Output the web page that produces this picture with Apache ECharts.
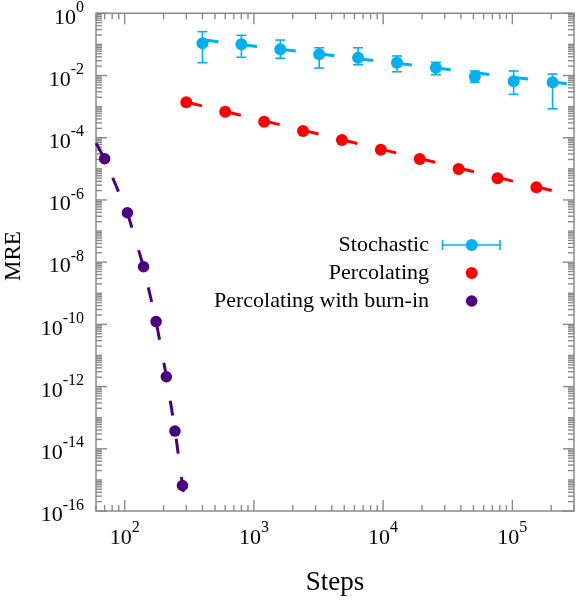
<!DOCTYPE html>
<html>
<head>
<meta charset="utf-8">
<script src="https://cdn.jsdelivr.net/npm/echarts@6/dist/echarts.min.js"></script>
<style>
html,body{margin:0;padding:0;background:#fff;}
#chart{width:576px;height:600px;}
</style>
</head>
<body>
<div id="chart"></div>
<script>
// ---- data ----
var stochSteps = [400, 800, 1600, 3200, 6400, 12800, 25600, 51200, 102400, 204800];
var stochMRE   = [0.108, 0.101, 0.0696, 0.048, 0.0373, 0.0258, 0.0178, 0.00915, 0.00651, 0.00604];
var stochLow   = [0.0258, 0.0385, 0.0357, 0.0174, 0.0222, 0.0132, 0.0106, 0.00604, 0.00248, 0.000855];
var stochHigh  = [0.257, 0.196, 0.138, 0.078, 0.078, 0.0424, 0.0266, 0.014, 0.014, 0.0112];

var percSteps = [300, 600, 1200, 2400, 4800, 9600, 19200, 38400, 76800, 153600];
var percMRE   = [1.38e-3, 6.85e-4, 3.27e-4, 1.64e-4, 8.4e-5, 4.11e-5, 2.07e-5, 9.86e-6, 4.95e-6, 2.54e-6];

var burnSteps = [70, 105, 140, 175, 210, 245, 280];
var burnMRE   = [2.11e-5, 3.89e-7, 7.1e-9, 1.23e-10, 2.07e-12, 3.7e-14, 6.6e-16];

// dashed fit lines
var stochFitSteps = [400, 300000];
var stochFitMRE   = [0.14, 0.0051];
var percFitSteps  = [300, 300000];
var percFitMRE    = [1.4e-3, 1.35e-6];
var burnFitSteps  = [60, 70, 105, 140, 175, 210, 245, 280, 296];
var burnFitMRE    = [6.7e-5, 2.1e-5, 3.9e-7, 7.1e-9, 1.26e-10, 2.2e-12, 4e-14, 7e-16, 1e-16];

// axis tick labels
var xTickValues = [100, 1000, 10000, 100000];
var yTickValues = [1e-16, 1e-14, 1e-12, 1e-10, 1e-8, 1e-6, 1e-4, 1e-2, 1];
var xDecades = [1, 2, 3, 4, 5];
var yDecades = [-16, -15, -14, -13, -12, -11, -10, -9, -8, -7, -6, -5, -4, -3, -2, -1, 0];
var legendNames = ['Stochastic', 'Percolating', 'Percolating with burn-in'];

var xMin = 60, xMax = 300000, yMin = 1e-16, yMax = 1;

var BLUE = '#00B0F0', RED = '#FF0000', PURPLE = '#4B0082', GRAY = '#8a8a8a';
var FONT = '"Liberation Serif", "Times New Roman", serif';

function zip(a, b) { return a.map(function (v, i) { return [v, b[i]]; }); }

function expLabel(v) {
  var l = Math.log(v) / Math.LN10;
  var e = Math.round(l);
  if (Math.abs(l - e) > 1e-6) return '';
  return '{b|10}{s|' + e + '}';
}

var richLab = {
  b: { fontSize: 22, fontFamily: FONT, color: '#000', lineHeight: 22 },
  s: { fontSize: 16, fontFamily: FONT, color: '#000', lineHeight: 16, padding: [0, 0, 20, 0] }
};

var chart = echarts.init(document.getElementById('chart'), null, { renderer: 'canvas' });

var option = {
  animation: false,
  backgroundColor: '#fff',
  grid: {
    left: 96, top: 13.3, right: 2, bottom: 89,
    containLabel: false, outerBoundsMode: 'none',
    show: true, borderColor: GRAY, borderWidth: 1.5, backgroundColor: 'transparent'
  },
  xAxis: {
    type: 'log', logBase: 10, min: xMin, max: xMax,
    name: 'Steps', nameLocation: 'middle', nameGap: 58,
    nameTextStyle: { fontFamily: FONT, fontSize: 27, color: '#000' },
    axisLine: { show: false }, axisTick: { show: false }, splitLine: { show: false },
    axisLabel: { customValues: xTickValues, formatter: expLabel, rich: richLab, margin: 16, hideOverlap: false }
  },
  yAxis: {
    type: 'log', logBase: 10, min: yMin, max: yMax,
    axisLine: { show: false }, axisTick: { show: false }, splitLine: { show: false },
    axisLabel: { customValues: yTickValues, formatter: expLabel, rich: richLab, margin: 12, hideOverlap: false, padding: [9, 0, 0, 0] }
  },
  graphic: [
    {
      type: 'text', x: 14, y: 256, rotation: Math.PI / 2, z: 10,
      style: { text: 'MRE', fontFamily: FONT, fontSize: 23, fill: '#000',
        align: 'center', textAlign: 'center', verticalAlign: 'middle', textVerticalAlign: 'middle' }
    }
  ],
  series: [
    {
      type: 'custom', name: 'ticks', silent: true, z: 1, clip: false,
      data: [[100, 1e-8]],
      renderItem: function (params, api) {
        var ch = [];
        var bot = api.coord([xMin, yMin])[1], top = api.coord([xMin, yMax])[1];
        var lef = api.coord([xMin, yMin])[0], rig = api.coord([xMax, yMin])[0];
        var st = { stroke: GRAY, lineWidth: 1.4 };
        xDecades.forEach(function (d) {
          for (var m = 1; m <= 9; m++) {
            var v = m * Math.pow(10, d);
            if (v < xMin || v > xMax) continue;
            var x = api.coord([v, yMin])[0];
            var len = m === 1 ? 11 : 6;
            ch.push({ type: 'line', shape: { x1: x, y1: bot, x2: x, y2: bot - len }, style: st });
            ch.push({ type: 'line', shape: { x1: x, y1: top, x2: x, y2: top + len }, style: st });
          }
        });
        yDecades.forEach(function (d) {
          for (var m = 1; m <= 9; m++) {
            var v = m * Math.pow(10, d);
            if (v < yMin * 0.999 || v > yMax * 1.001) continue;
            var y = api.coord([xMin, v])[1];
            var len = (m === 1 && d % 2 === 0) ? 11 : 6;
            ch.push({ type: 'line', shape: { x1: lef, y1: y, x2: lef + len, y2: y }, style: st });
            ch.push({ type: 'line', shape: { x1: rig, y1: y, x2: rig - len, y2: y }, style: st });
          }
        });
        return { type: 'group', children: ch };
      }
    },
    {
      type: 'line', name: 'stochFit', data: zip(stochFitSteps, stochFitMRE),
      symbol: 'none', z: 2, silent: true,
      lineStyle: { color: BLUE, width: 3, type: [16, 23], dashOffset: 0, cap: 'butt' }
    },
    {
      type: 'line', name: 'percFit', data: zip(percFitSteps, percFitMRE),
      symbol: 'none', z: 2, silent: true,
      lineStyle: { color: RED, width: 3, type: [16, 24], dashOffset: 0, cap: 'butt' }
    },
    {
      type: 'line', name: 'burnFit', data: zip(burnFitSteps, burnFitMRE),
      symbol: 'none', z: 2, silent: true,
      lineStyle: { color: PURPLE, width: 3, type: [15, 23.5], dashOffset: 0, cap: 'butt' }
    },
    {
      type: 'custom', name: 'stochErr', z: 3, silent: true,
      data: stochSteps.map(function (s, i) { return [s, stochLow[i], stochHigh[i]]; }),
      renderItem: function (params, api) {
        var lo = api.coord([api.value(0), api.value(1)]);
        var hi = api.coord([api.value(0), api.value(2)]);
        var st = { stroke: BLUE, lineWidth: 1.6 };
        return { type: 'group', children: [
          { type: 'line', shape: { x1: lo[0], y1: lo[1], x2: hi[0], y2: hi[1] }, style: st },
          { type: 'line', shape: { x1: lo[0] - 5, y1: lo[1], x2: lo[0] + 5, y2: lo[1] }, style: st },
          { type: 'line', shape: { x1: hi[0] - 5, y1: hi[1], x2: hi[0] + 5, y2: hi[1] }, style: st }
        ] };
      }
    },
    {
      type: 'scatter', name: legendNames[0], data: zip(stochSteps, stochMRE),
      symbol: 'circle', symbolSize: 12, z: 4, itemStyle: { color: BLUE, opacity: 1 }
    },
    {
      type: 'scatter', name: legendNames[1], data: zip(percSteps, percMRE),
      symbol: 'circle', symbolSize: 12, z: 4, itemStyle: { color: RED, opacity: 1 }
    },
    {
      type: 'scatter', name: legendNames[2], data: zip(burnSteps, burnMRE),
      symbol: 'circle', symbolSize: 11.5, z: 4, itemStyle: { color: PURPLE, opacity: 1 }
    }
  ]
};

// legend drawn as graphic (text right-aligned, symbol on the right)
var legY = [245, 273, 301];
var legCol = [BLUE, RED, PURPLE];
legendNames.forEach(function (n, i) {
  option.graphic.push({
    type: 'text', x: 429, y: legY[i], z: 10,
    style: { text: n, fontFamily: FONT, fontSize: 22, fill: '#000',
      align: 'right', textAlign: 'right', verticalAlign: 'middle', textVerticalAlign: 'middle' }
  });
  option.graphic.push({
    type: 'circle', x: 0, y: 0, z: 10,
    shape: { cx: 471.7, cy: legY[i], r: i === 2 ? 5.8 : 6 }, style: { fill: legCol[i] }
  });
});
option.graphic.push({
  type: 'group', z: 9, children: [
    { type: 'line', shape: { x1: 442.5, y1: legY[0], x2: 500, y2: legY[0] }, style: { stroke: BLUE, lineWidth: 1.6 } },
    { type: 'line', shape: { x1: 442.5, y1: legY[0] - 5, x2: 442.5, y2: legY[0] + 5 }, style: { stroke: BLUE, lineWidth: 1.6 } },
    { type: 'line', shape: { x1: 500, y1: legY[0] - 5, x2: 500, y2: legY[0] + 5 }, style: { stroke: BLUE, lineWidth: 1.6 } }
  ]
});

chart.setOption(option);
</script>
</body>
</html>
